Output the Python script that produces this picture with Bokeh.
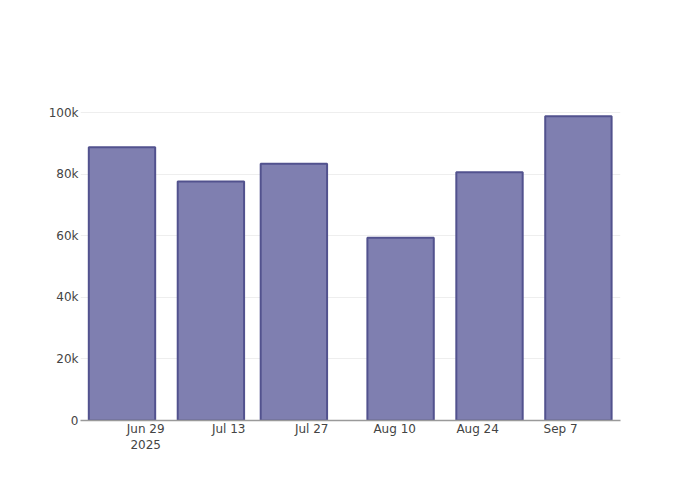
from datetime import datetime
from bokeh.plotting import figure
from bokeh.models import ColumnDataSource, FixedTicker, Range1d
from bokeh.embed import file_html
from bokeh.resources import INLINE

dates = ["2025-06-25", "2025-07-10", "2025-07-24", "2025-08-11", "2025-08-26", "2025-09-10"]
values = [88700, 77600, 83400, 59300, 80600, 98800]
tick_dates = ["2025-06-29", "2025-07-13", "2025-07-27", "2025-08-10", "2025-08-24", "2025-09-07"]
tick_labels = ["Jun 29\n2025", "Jul 13", "Jul 27", "Aug 10", "Aug 24", "Sep 7"]
y_ticks = [0, 20000, 40000, 60000, 80000, 100000]
y_labels = ["0", "20k", "40k", "60k", "80k", "100k"]

DAY = 86400000.0

def ms(s):
    return (datetime.strptime(s, "%Y-%m-%d") - datetime(1970, 1, 1)).total_seconds() * 1000.0

xs = [ms(d) for d in dates]
src = ColumnDataSource(dict(x=xs, top=values))

p = figure(width=692, height=492, output_backend="svg", toolbar_location=None,
           x_range=Range1d(ms("2025-06-18"), ms("2025-09-17") + 0.1 * DAY),
           y_range=Range1d(0, 103900),
           min_border_left=80, min_border_right=72, min_border_top=100, min_border_bottom=72)
p.outline_line_color = None
p.background_fill_color = "white"
p.border_fill_color = "white"

p.vbar(x="x", top="top", width=11.2 * DAY, bottom=0, source=src,
       fill_color="#7f7fb0", line_color="#52528e", line_width=2)

tvals = [ms(t) for t in tick_dates]
p.xaxis.ticker = FixedTicker(ticks=tvals)
p.xaxis.major_label_overrides = {t: l for t, l in zip(tvals, tick_labels)}
p.xaxis.axis_line_color = "#9a9a9a"
p.xaxis.axis_line_width = 1.5
p.xaxis.major_tick_line_color = None
p.xaxis.major_tick_out = 0
p.xaxis.major_tick_in = 0
p.xaxis.minor_tick_line_color = None
p.xaxis.major_label_standoff = 1
p.xgrid.grid_line_color = None

p.yaxis.ticker = FixedTicker(ticks=y_ticks)
p.yaxis.major_label_overrides = {t: l for t, l in zip(y_ticks, y_labels)}
p.yaxis.axis_line_color = None
p.yaxis.major_tick_line_color = None
p.yaxis.major_tick_out = 0
p.yaxis.major_tick_in = 0
p.yaxis.minor_tick_line_color = None
p.yaxis.major_label_standoff = 2
p.ygrid.grid_line_color = "#eeeeee"
p.ygrid.grid_line_width = 1

for ax in (p.xaxis, p.yaxis):
    ax.major_label_text_font = "DejaVu Sans"
    ax.major_label_text_font_size = "12px"
    ax.major_label_text_color = "#444444"

open("out.html", "w").write(file_html(p, INLINE))
